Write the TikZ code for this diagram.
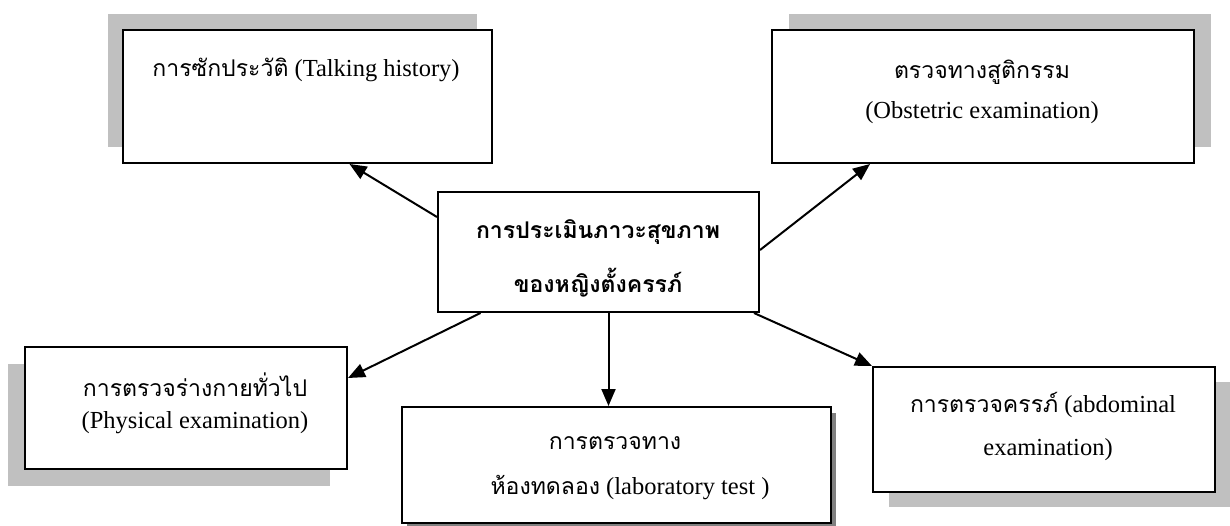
\documentclass[tikz,border=0pt]{standalone}
\usepackage{fontspec}
\setmainfont{Liberation Serif}
\newfontfamily\thaifont[Script=Thai,Scale=0.94]{Loma}
\usetikzlibrary{arrows.meta,shadows}
\definecolor{shadegray}{HTML}{C0C0C0}
\definecolor{darkshade}{HTML}{808080}

\begin{document}
\begin{tikzpicture}[
  x=1pt, y=-1pt,
  box/.style={rectangle, draw, line width=2pt, fill=white, inner sep=0pt},
  txt/.style={font=\fontsize{24.5}{28}\selectfont, inner sep=0pt, anchor=center},
  backshade/.style 2 args={drop shadow={shadow xshift=#1pt, shadow yshift=#2pt, fill=shadegray, opacity=1}},
  link/.style={line width=2pt, -{Triangle[length=17pt, width=14pt]}}
  ]

  \useasboundingbox (0,0) rectangle (1230,525);

  % boxes, placed at their centres
  \node[box, backshade={-15}{16}, minimum width=369pt, minimum height=133pt] (hist) at (307.5,96.5) {};
  \node[box, backshade={17}{16}, minimum width=422pt, minimum height=133pt] (obst) at (983,96.5) {};
  \node[box, minimum width=321pt, minimum height=120pt] (ctr) at (598.5,252) {};
  \node[box, backshade={-17}{-17}, minimum width=322pt, minimum height=122pt] (phys) at (186,408) {};
  \node[box, drop shadow={shadow xshift=5pt, shadow yshift=-6pt, fill=darkshade, opacity=1},
        minimum width=429pt, minimum height=116pt] (lab) at (616.5,465) {};
  \node[box, backshade={16}{-15}, minimum width=342pt, minimum height=125pt] (abd) at (1044,429.5) {};

  % texts
  \node[txt] (histA) at (306,70) {{\thaifont การซักประวัติ} (Talking history)};

  \node[txt] (obstA) at (982,72) {\thaifont ตรวจทางสูติกรรม};
  \node[txt] (obstB) at (982,113) {(Obstetric examination)};

  \node[txt] (ctrA) at (598,232) {\thaifont\bfseries การประเมินภาวะสุขภาพ};
  \node[txt] (ctrB) at (598,283) {\thaifont\bfseries ของหญิงตั้งครรภ์};

  \node[txt] (physA) at (195,385) {\thaifont การตรวจร่างกายทั่วไป};
  \node[txt] (physB) at (195,423) {(Physical examination)};

  \node[txt] (labA) at (615,443) {\thaifont การตรวจทาง};
  \node[txt] (labB) at (630,488) {{\thaifont ห้องทดลอง} (laboratory test )};

  \node[txt] (abdA) at (1043,405) {{\thaifont การตรวจครรภ์} (abdominal};
  \node[txt] (abdB) at (1048,450) {examination)};

  % arrows from the centre box
  \draw[link] ([yshift=35pt]ctr.west) -- ([xshift=42pt]hist.south);
  \draw[link] ([yshift=2pt]ctr.east) -- ([xshift=-113pt]obst.south);
  \draw[link] ([xshift=-118pt]ctr.south) -- ([yshift=30pt]phys.east);
  \draw[link] ([xshift=10pt]ctr.south) -- ([xshift=10pt]ctr.south |- lab.north);
  \draw[link] ([xshift=-6pt]ctr.south east) -- (abd.north west);

\end{tikzpicture}
\end{document}
